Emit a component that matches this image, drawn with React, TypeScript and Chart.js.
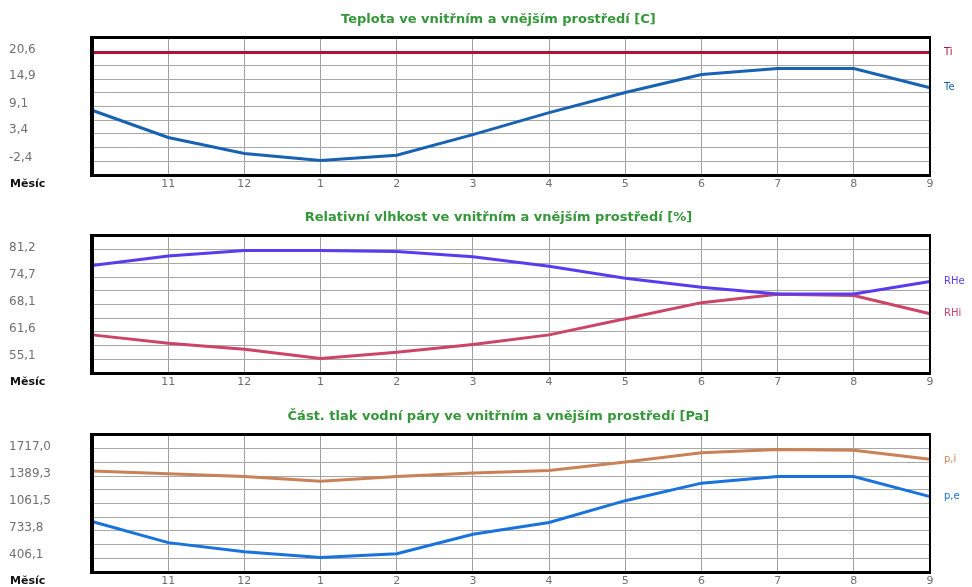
import React, { useEffect, useRef } from "react";
import { Chart, registerables } from "chart.js";

Chart.register(...registerables);

// Months (first point = October, label hidden as in the reference)
const months = ["10", "11", "12", "1", "2", "3", "4", "5", "6", "7", "8", "9"];

// Panel 1: temperature [C]
const tempInside = [20.6, 20.6, 20.6, 20.6, 20.6, 20.6, 20.6, 20.6, 20.6, 20.6, 20.6, 20.6];
const tempOutside = [8.3, 2.5, -0.9, -2.4, -1.3, 3.1, 7.8, 12.1, 15.9, 17.2, 17.2, 13.1];
const tempTicks = [20.6, 14.9, 9.1, 3.4, -2.4];

// Panel 2: relative humidity [%]
const rhOutside = [77.6, 79.9, 81.2, 81.2, 81.0, 79.7, 77.4, 74.5, 72.3, 70.7, 70.7, 73.7];
const rhInside = [60.8, 58.8, 57.3, 55.1, 56.6, 58.5, 60.8, 64.7, 68.6, 70.6, 70.3, 65.9];
const rhTicks = [81.2, 74.7, 68.1, 61.6, 55.1];

// Panel 3: partial vapour pressure [Pa]
const pInside = [1456, 1423, 1390, 1333, 1390, 1431, 1463, 1566, 1677, 1717, 1709, 1598];
const pOutside = [843, 586, 476, 406.1, 451, 688, 831, 1096, 1309, 1390, 1390, 1145];
const pTicks = [1717.0, 1389.3, 1061.5, 733.8, 406.1];

type Series = { label: string; data: number[]; color: string };

const fmt = (v: number) => v.toFixed(1).replace(".", ",");

function Panel(props: { title: string; series: Series[]; ticks: number[]; top: number }) {
  const ref = useRef<HTMLCanvasElement>(null);
  useEffect(() => {
    const { title, series, ticks } = props;
    const lo = Math.min(...ticks);
    const hi = Math.max(...ticks);
    const pad = (hi - lo) * 0.135;
    const min = lo - pad;
    const max = hi + pad;
    const decor = {
      id: "decor",
      afterDraw(chart: any) {
        const { ctx, chartArea: a } = chart;
        ctx.save();
        // frame
        ctx.fillStyle = "#000";
        ctx.fillRect(a.left - 2, a.top - 2, a.right - a.left + 3, 3); // top
        ctx.fillRect(a.left - 2, a.bottom - 1, a.right - a.left + 3, 3); // bottom
        ctx.fillRect(a.left - 2, a.top - 2, 4, a.bottom - a.top + 4); // left
        ctx.fillRect(a.right - 1, a.top - 2, 2, a.bottom - a.top + 4); // right
        // title
        ctx.fillStyle = "#35963a";
        ctx.font = "bold 13px 'DejaVu Sans'";
        ctx.textAlign = "center";
        ctx.textBaseline = "middle";
        ctx.fillText(title, a.left + (a.right - a.left) * 0.485, 20);
        // axis caption
        ctx.fillStyle = "#111";
        ctx.font = "bold 11px 'DejaVu Sans'";
        ctx.textAlign = "left";
        ctx.fillText("Měsíc", a.left - 82, a.bottom + 9);
        // series labels at right end
        ctx.font = "10px 'DejaVu Sans'";
        chart.data.datasets.forEach((ds: any, i: number) => {
          const meta = chart.getDatasetMeta(i);
          const last = meta.data[meta.data.length - 1];
          ctx.fillStyle = ds.borderColor;
          ctx.fillText(ds.label, a.right + 14, last.y);
        });
        ctx.restore();
      },
    };
    const chart = new Chart(ref.current as HTMLCanvasElement, {
      type: "line",
      data: {
        labels: months,
        datasets: series.map((s) => ({
          label: s.label,
          data: s.data,
          borderColor: s.color,
          backgroundColor: s.color,
          borderWidth: 3,
          pointRadius: 0,
          tension: 0,
          fill: false,
          yAxisID: "y",
        })),
      },
      options: {
        responsive: false,
        animation: false,
        layout: { padding: { left: 9, right: 42, top: 38, bottom: 0 } },
        plugins: {
          legend: { display: false },
          tooltip: { enabled: false },
          title: { display: false },
        },
        scales: {
          x: {
            type: "category",
            offset: false,
            grid: { color: "#a0a0a0", drawTicks: false },
            border: { display: false },
            ticks: {
              color: "#707070",
              font: { family: "'DejaVu Sans'", size: 11 },
              padding: 3,
              maxRotation: 0,
              autoSkip: false,
              callback: (_v: any, i: number) => (i === 0 ? "" : months[i]),
            },
            afterFit: (s: any) => {
              s.height = 23;
            },
          },
          yg: {
            type: "linear",
            position: "left",
            min,
            max,
            grid: { color: "#a8a8a8", drawTicks: false },
            border: { display: false },
            ticks: { display: false },
            afterBuildTicks: (s: any) => {
              s.ticks = Array.from({ length: 11 }, (_, k) => ({ value: min + (k * (max - min)) / 10 }));
            },
            afterFit: (s: any) => {
              s.width = 0;
            },
          },
          y: {
            type: "linear",
            position: "left",
            min,
            max,
            grid: { display: false, drawTicks: false },
            border: { display: false },
            ticks: {
              color: "#707070",
              crossAlign: "far",
              padding: 0,
              labelOffset: -3,
              font: { family: "'DejaVu Sans'", size: 12 },
              callback: (v: any) => fmt(Number(v)),
            },
            afterBuildTicks: (s: any) => {
              s.ticks = ticks.map((v) => ({ value: v }));
            },
            afterFit: (s: any) => {
              s.width = 83;
            },
          },
        },
      } as any,
      plugins: [decor],
    });
    return () => chart.destroy();
  }, []);
  return (
    <div style={{ position: "absolute", left: 0, top: props.top, width: 972, height: 198 }}>
      <canvas ref={ref} width={972} height={198} style={{ width: 972, height: 198, display: "block" }} />
    </div>
  );
}

export default function App() {
  return (
    <div style={{ position: "absolute", left: 0, top: 0, width: 972, height: 587, background: "#fff", overflow: "hidden" }}>
      <Panel
        top={0}
        title="Teplota ve vnitřním a vnějším prostředí [C]"
        ticks={tempTicks}
        series={[
          { label: "Ti", data: tempInside, color: "#b01434" },
          { label: "Te", data: tempOutside, color: "#1862b4" },
        ]}
      />
      <Panel
        top={198}
        title="Relativní vlhkost ve vnitřním a vnějším prostředí [%]"
        ticks={rhTicks}
        series={[
          { label: "RHe", data: rhOutside, color: "#5a3cf0" },
          { label: "RHi", data: rhInside, color: "#cc4466" },
        ]}
      />
      <Panel
        top={397}
        title="Část. tlak vodní páry ve vnitřním a vnějším prostředí [Pa]"
        ticks={pTicks}
        series={[
          { label: "p,i", data: pInside, color: "#c98257" },
          { label: "p,e", data: pOutside, color: "#1a72dc" },
        ]}
      />
    </div>
  );
}
